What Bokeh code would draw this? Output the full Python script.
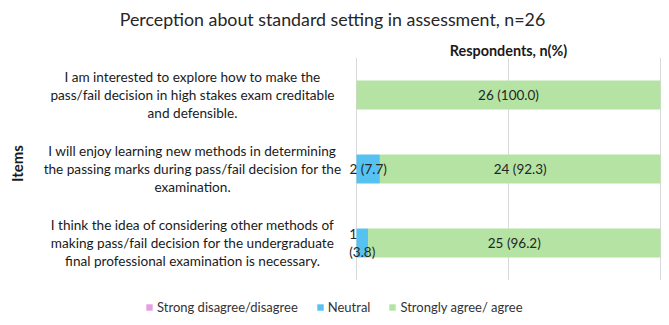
from bokeh.plotting import figure
from bokeh.models import Label, LabelSet, ColumnDataSource, Legend, LegendItem, Range1d
from bokeh.core.properties import value
from bokeh.embed import file_html
from bokeh.resources import INLINE
import math

# ---- data ----
items = [
    "I am interested to explore how to make the\npass/fail decision in high stakes exam creditable\nand defensible.",
    "I will enjoy learning new methods in determining\nthe passing marks during pass/fail decision for the\nexamination.",
    "I think the idea of considering other methods of\nmaking pass/fail decision for the undergraduate\nfinal professional examination is necessary.",
]
series = ["Strong disagree/disagree", "Neutral", "Strongly agree/ agree"]
n_disagree = [0, 0, 0]
n_neutral = [0, 2, 1]
n_agree = [26, 24, 25]
pct_disagree = [0.0, 0.0, 0.0]
pct_neutral = [0.0, 7.7, 3.8]
pct_agree = [100.0, 92.3, 96.2]
colors = ["#e59ede", "#56c2f1", "#b4e3a3"]
title_text = "Perception about standard setting in assessment, n=26"
x_title = "Respondents, n(%)"
y_title = "Items"
x_ticks = [0, 50, 100]
x_max = 100

FONT = "Lato"

# ---- layout (pixels) ----
W, H = 669, 325
PL, PR = 356, 660          # plot area left/right
PT, PB = 57.5, 279.5       # plot area top/bottom

N = len(items)
ypos = [N - i - 0.5 for i in range(N)]  # first item on top

sx = x_max / (PR - PL)
sy = N / (PB - PT)
p = figure(width=W, height=H,
           x_range=Range1d(-PL * sx, x_max + (W - PR) * sx),
           y_range=Range1d(-(H - PB) * sy, N + PT * sy),
           output_backend="svg", toolbar_location=None,
           min_border_left=0, min_border_right=0, min_border_top=0, min_border_bottom=0)
p.outline_line_color = None
p.xaxis.visible = False
p.yaxis.visible = False
p.grid.visible = False
p.background_fill_color = "white"

# gridlines
p.segment(x0=x_ticks, x1=x_ticks, y0=[0] * len(x_ticks), y1=[N] * len(x_ticks),
          line_color="#d9d9d9", line_width=1)

src = ColumnDataSource(dict(y=ypos, d=pct_disagree, n=pct_neutral, a=pct_agree))
renderers = p.hbar_stack(["d", "n", "a"], y="y", height=0.39, color=colors, line_color=None, source=src)

# bar labels
lx, ly, lt = [], [], []
for i, yv in enumerate(ypos):
    left = 0.0
    for cnt, pc in ((n_disagree[i], pct_disagree[i]), (n_neutral[i], pct_neutral[i]), (n_agree[i], pct_agree[i])):
        if cnt > 0:
            txt = "%d (%.1f)" % (cnt, pc)
            if pc < 5:
                txt = "%d\n(%.1f)" % (cnt, pc)
            lx.append(left + pc / 2)
            ly.append(yv)
            lt.append(txt)
        left += pc
lsrc = ColumnDataSource(dict(x=lx, y=ly, t=lt))
p.add_layout(LabelSet(x="x", y="y", text="t", source=lsrc, text_align="center", text_baseline="middle",
                      text_font=value(FONT), text_font_size="13.5px", text_color="#262626",
                      text_line_height=1.1))

# category labels
for yv, txt in zip(ypos, items):
    p.add_layout(Label(x=192, x_units="screen", y=yv, text=txt, text_align="center", text_baseline="middle",
                       text_font=FONT, text_font_size="13.6px", text_color="#1a1a1a", text_line_height=1.1))

# titles
p.add_layout(Label(x=332, y=H - 18, x_units="screen", y_units="screen", text=title_text, text_align="center",
                   text_baseline="middle", text_font=FONT, text_font_size="17.8px", text_color="#262626"))
p.add_layout(Label(x=x_max / 2, y=H - 50, y_units="screen", text=x_title, text_align="center",
                   text_baseline="middle", text_font=FONT, text_font_size="14.4px", text_font_style="bold",
                   text_color="#1a1a1a"))
p.add_layout(Label(x=16, y=H - 163, x_units="screen", y_units="screen", text=y_title, text_align="center",
                   text_baseline="middle", angle=math.pi / 2, text_font=FONT, text_font_size="15px",
                   text_font_style="bold", text_color="#1a1a1a"))

legend = Legend(items=[LegendItem(label=s, renderers=[r]) for s, r in zip(series, renderers)],
                orientation="horizontal", location=(145, 10), glyph_width=8, glyph_height=8,
                label_standoff=4, spacing=18, padding=0, margin=0, border_line_color=None,
                background_fill_alpha=0, label_text_font=FONT, label_text_font_size="13px",
                label_text_color="#333333")
p.add_layout(legend, "center")

open("out.html", "w").write(file_html(p, INLINE))
